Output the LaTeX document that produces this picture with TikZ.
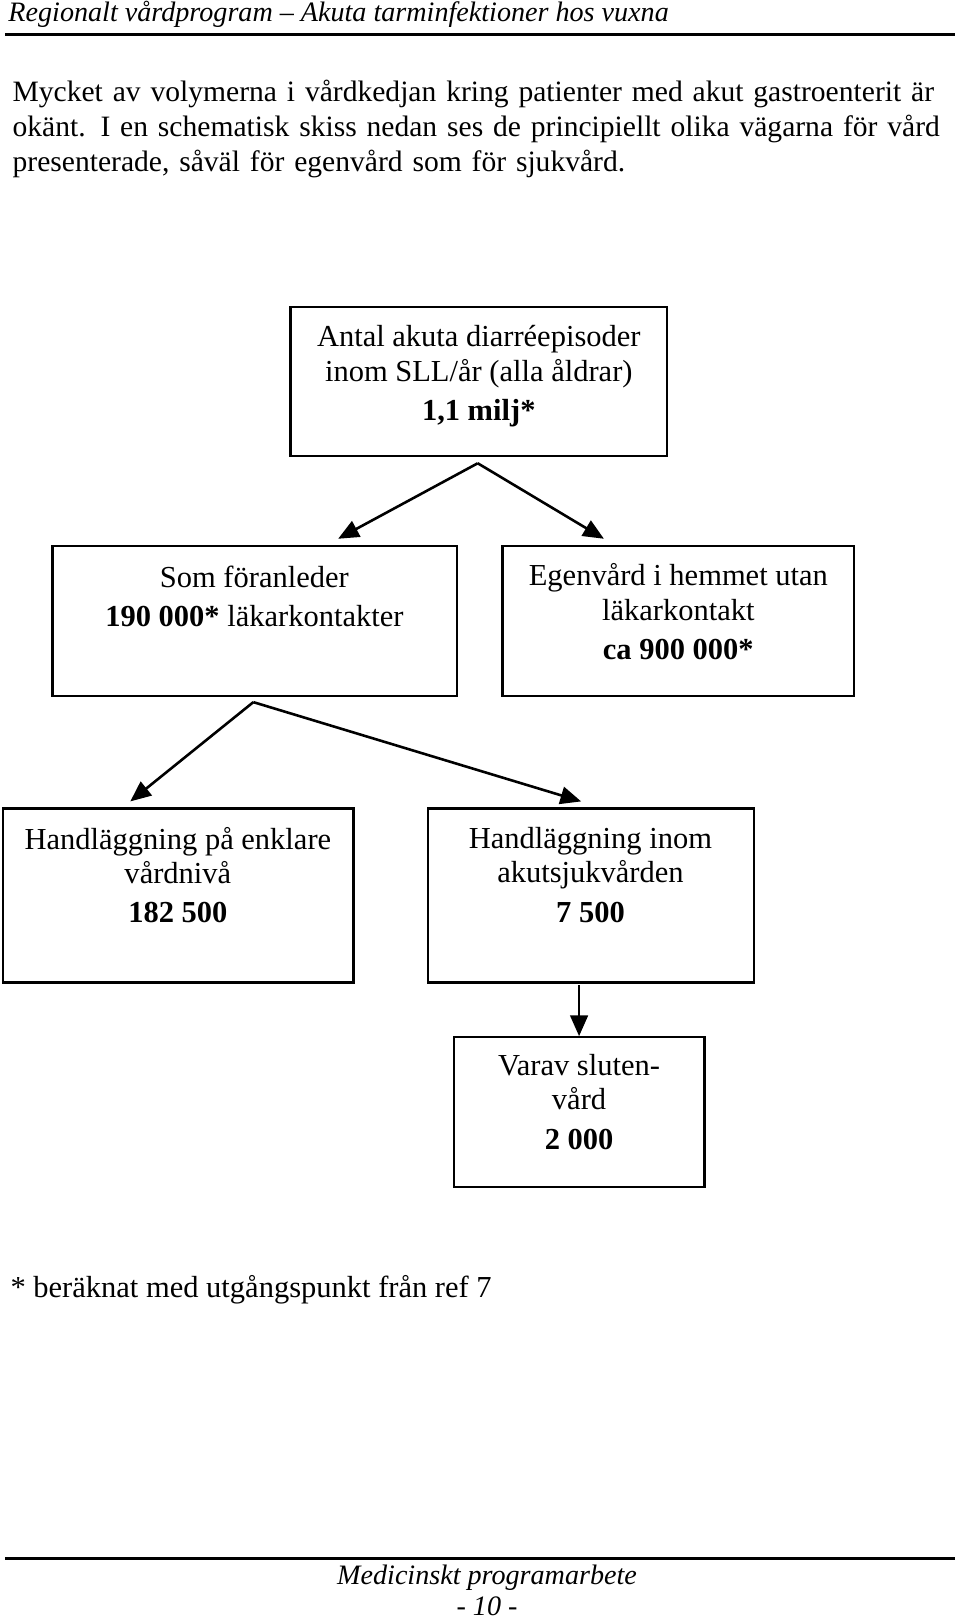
\documentclass[tikz,border=0pt]{standalone}
\usepackage{fontspec}
\setmainfont{Liberation Serif}
\usetikzlibrary{arrows.meta}
\tikzset{
  txt/.style={align=center, inner sep=0pt, font=\fontsize{29.5}{33.5}\selectfont},
  boxline/.style={line width=2.5pt},
  conn/.style={line width=2.5pt, -{Triangle[length=20pt,width=17pt]}},
  rule/.style={line width=3pt},
}
\begin{document}
\begin{tikzpicture}[x=1pt,y=-1pt]
\useasboundingbox (0,0) rectangle (928.4,1567.6);
% header
\node[anchor=west, inner sep=0pt, font=\fontsize{27.2}{30}\itshape\selectfont] (head) at (8,14) {Regionalt vårdprogram – Akuta tarminfektioner hos vuxna};
\draw[rule] (5,33) -- (924,33);
% intro text
\node[anchor=north west, inner sep=0pt, text width=905pt, align=left, font=\fontsize{28.6}{34}\selectfont] (intro) at (12,77)
{Mycket av volymerna i vårdkedjan kring patienter med akut gastroenterit är okänt. I en schematisk skiss nedan ses de principiellt olika vägarna för vård presenterade, såväl för egenvård som för sjukvård.};
% boxes
\node[boxline, draw, minimum width=364pt, minimum height=144pt, inner sep=0pt] (b1) at (463,369) {};
\node[boxline, draw, minimum width=391pt, minimum height=145pt, inner sep=0pt] (b2) at (246.5,600.5) {};
\node[boxline, draw, minimum width=340pt, minimum height=145pt, inner sep=0pt] (b3) at (656,600.5) {};
\node[boxline, draw, minimum width=339pt, minimum height=168pt, inner sep=0pt] (b4) at (172.5,866) {};
\node[boxline, draw, minimum width=315pt, minimum height=168pt, inner sep=0pt] (b5) at (571.5,866) {};
\node[boxline, draw, minimum width=242pt, minimum height=145pt, inner sep=0pt] (b6) at (560,1075.5) {};
% texts
\node[txt, anchor=north] (t1) at (463,314.5) {Antal akuta diarréepisoder\\inom SLL/år (alla åldrar)\\[4.5pt]\textbf{1,1 milj*}};
\node[txt, anchor=north] (t2) at (246,547) {Som föranleder\\[4.5pt]\textbf{190 000*} läkarkontakter};
\node[txt, anchor=north] (t3) at (656,545) {Egenvård i hemmet utan\\läkarkontakt\\[4.5pt]\textbf{ca 900 000*}};
\node[txt, anchor=north] (t4) at (172,799.5) {Handläggning på enklare\\vårdnivå\\[4.5pt]\textbf{182 500}};
\node[txt, anchor=north] (t5) at (571,799.5) {Handläggning inom\\akutsjukvården\\[4.5pt]\textbf{7 500}};
\node[txt, anchor=north] (t6) at (560,1019) {Varav sluten-\\vård\\[4.5pt]\textbf{2 000}};
% connectors
\coordinate (s1) at (462,448);
\coordinate (e1) at (327,521);
\coordinate (e2) at (584,521);
\draw[conn] (s1) -- (e1);
\draw[conn] (s1) -- (e2);
\coordinate (s2) at (245,679);
\coordinate (e3) at (126,775);
\coordinate (e4) at (562,775);
\draw[conn] (s2) -- (e3);
\draw[conn] (s2) -- (e4);
\coordinate (s3) at (560,953);
\coordinate (e5) at (560,1002);
\draw[conn] (s3) -- (e5);
% footnote
\node[anchor=west, inner sep=0pt, font=\fontsize{29.5}{34}\selectfont] (foot) at (10,1247) {* beräknat med utgångspunkt från ref 7};
% footer
\draw[rule] (5,1507) -- (924,1507);
\node[inner sep=0pt, font=\fontsize{27.2}{30}\itshape\selectfont] (f1) at (471,1526) {Medicinskt programarbete};
\node[inner sep=0pt, font=\fontsize{27.2}{30}\itshape\selectfont] (f2) at (471,1553) {- 10 -};
\end{tikzpicture}
\end{document}
